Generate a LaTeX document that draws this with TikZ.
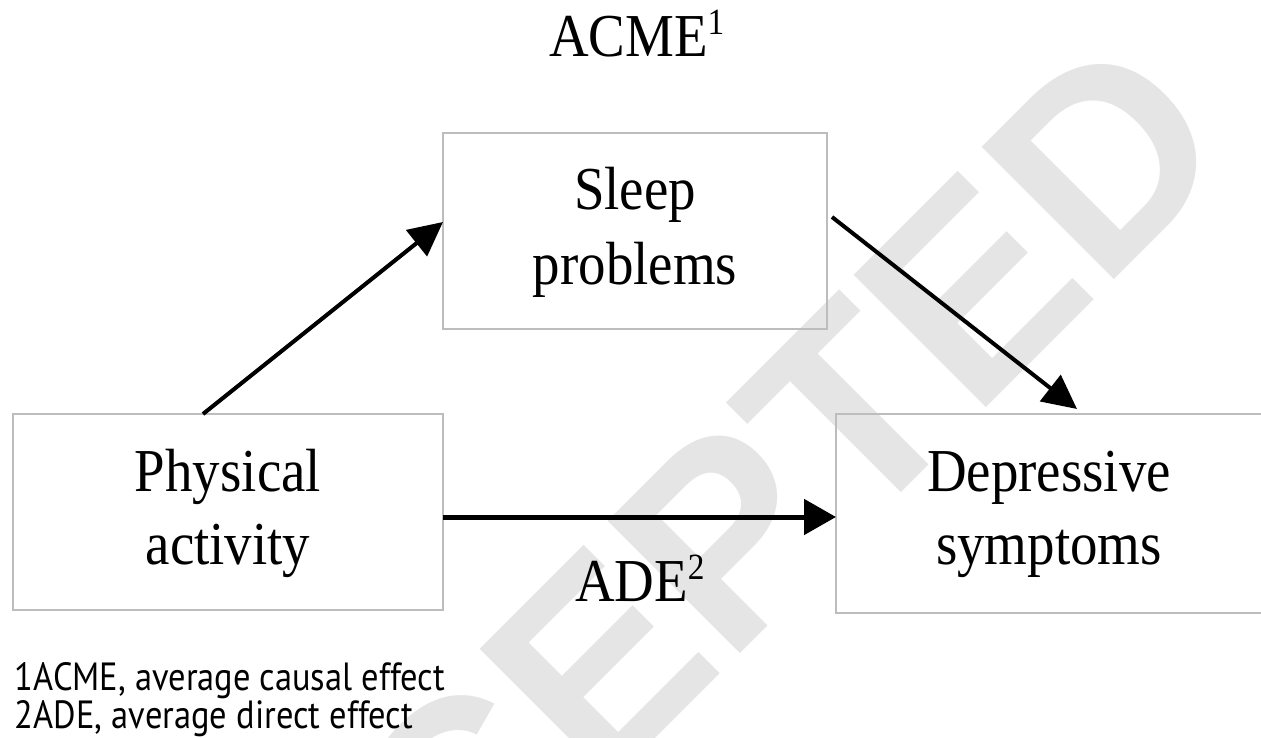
\documentclass[tikz,border=0pt]{standalone}
\usepackage{fontspec}
\setmainfont{Liberation Serif}
\newfontfamily\notefont{PT Sans}
\newfontfamily\wmfont{Liberation Sans}
\usepackage{graphicx}
\usetikzlibrary{arrows.meta,calc}
\definecolor{boxgray}{HTML}{BDBDBD}
\definecolor{wmgray}{HTML}{E5E5E5}
\newcommand{\lbl}[1]{\scalebox{0.9}[1]{\fontsize{61}{74}\selectfont #1}}
\newcommand{\supnum}[1]{\raisebox{22pt}{\fontsize{37}{37}\selectfont #1}}
\tikzset{
  box/.style={draw=boxgray, line width=1.5pt, rectangle, inner sep=0pt, outer sep=0pt},
  txt/.style={inner sep=0pt, outer sep=0pt, anchor=base},
  arr/.style={line width=4pt, -{Triangle[length=34pt,width=33pt]}},
  harr/.style={line width=5pt, -{Triangle[length=32pt,width=35pt]}},
  wm/.style={text=wmgray, inner sep=0pt, outer sep=0pt, font={\wmfont\bfseries\fontsize{272}{272}\selectfont}}
}
\begin{document}
\begin{tikzpicture}[x=1pt,y=-1pt]
\useasboundingbox (0,0) rectangle (1261,738);
\fill[white] (0,0) rectangle (1261,738);
\clip (0,0) rectangle (1261,738);
% watermark
\node[wm, rotate=45, anchor=base west] (wmark) at (183,1211) {ACCEPTED};
% boxes
\node[box, minimum width=384pt, minimum height=196pt] (sleep) at (635,231) {};
\node[box, minimum width=430pt, minimum height=196pt] (phys) at (228,512) {};
\node[box, minimum width=426pt, minimum height=199pt] (dep) at (1049,513.5) {};
% box texts
\node[txt] (sleepA) at ($(sleep.center)+(0,-21)$) {\lbl{Sleep}};
\node[txt] (sleepB) at ($(sleep.center)+(0,53)$) {\lbl{problems}};
\node[txt] (physA) at ($(phys.center)+(0,-21)$) {\lbl{Physical}};
\node[txt] (physB) at ($(phys.center)+(0,52)$) {\lbl{activity}};
\node[txt] (depA) at ($(dep.center)+(0,-22)$) {\lbl{Depressive}};
\node[txt] (depB) at ($(dep.center)+(0,51)$) {\lbl{symptoms}};
% connectors
\coordinate (p1) at ($(phys.north west)+(190,0)$);
\coordinate (s1) at ($(sleep.west)+(0,-9)$);
\draw[arr] (p1) -- (s1);
\coordinate (s2) at ($(sleep.east)+(5,-14)$);
\coordinate (d1) at ($(dep.north west)+(241,-5)$);
\draw[arr] (s2) -- (d1);
\coordinate (p2) at ($(phys.east)+(0,5)$);
\draw[harr] (p2) -- (p2 -| dep.west);
% path labels
\node[txt, anchor=base west] (acme) at (549,57) {\lbl{ACME\supnum{1}}};
\node[txt, anchor=base west] (ade) at (575,601) {\lbl{ADE\supnum{2}}};
% footnotes
\node[txt, anchor=base west] (fn1) at (15,690) {\resizebox{430pt}{28pt}{\notefont 1ACME, average causal effect}};
\node[txt, anchor=base west] (fn2) at (15,728) {\resizebox{398pt}{28pt}{\notefont 2ADE, average direct effect}};
\end{tikzpicture}
\end{document}
